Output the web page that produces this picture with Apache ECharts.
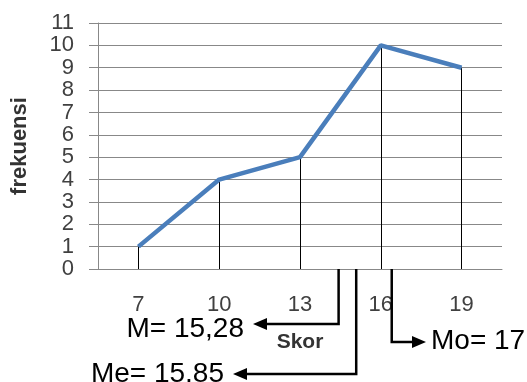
<!DOCTYPE html>
<html>
<head>
<meta charset="utf-8">
<script src="https://cdn.jsdelivr.net/npm/echarts@6/dist/echarts.min.js"></script>
<style>
  html, body { margin: 0; padding: 0; background: #fff; }
  #chart { width: 527px; height: 382px; }
</style>
</head>
<body>
<div id="chart"></div>
<script>
// Frequency polygon of scores
const categories = ['7', '10', '13', '16', '19'];
const frequencies = [1, 4, 5, 10, 9];
const yTicks = [0, 1, 2, 3, 4, 5, 6, 7, 8, 9, 10, 11];

// Central tendency callouts: mean, median, mode
const statNames = ['M', 'Me', 'Mo'];
const statValues = [15.28, 15.85, 17];
const statLabels = ['M= 15,28', 'Me= 15,85', 'Mo= 17'];

const chart = echarts.init(document.getElementById('chart'), null, { renderer: 'canvas' });

const axisFont = { fontFamily: 'Liberation Sans', fontSize: 22, color: '#404040' };

// vertical drop lines from each point down to the x axis
const dropLines = frequencies.map((v, i) => [
  { xAxis: i, yAxis: 0 },
  { xAxis: i, yAxis: v }
]);

chart.setOption({
  animation: false,
  grid: { left: 98, right: 25, top: 23, bottom: 113 },
  xAxis: [
    {
      type: 'category',
      data: categories,
      boundaryGap: true,
      axisLine: { show: true, lineStyle: { color: '#888', width: 1 } },
      axisTick: { show: false },
      axisLabel: Object.assign({ margin: 25 }, axisFont),
      name: 'Skor',
      nameLocation: 'middle',
      nameGap: 63,
      nameTextStyle: { fontFamily: 'Liberation Sans', fontWeight: 'bold', fontSize: 21, color: '#333' }
    },
    {
      // scale used to place the statistic callouts along the score axis
      type: 'value',
      show: false,
      min: 7.49,
      max: 20.57,
      position: 'bottom'
    }
  ],
  yAxis: {
    type: 'value',
    min: yTicks[0],
    max: yTicks[yTicks.length - 1],
    interval: 1,
    axisLine: { show: true, lineStyle: { color: '#888', width: 1 } },
    axisTick: { show: true, length: 9, lineStyle: { color: '#888' } },
    splitLine: { show: true, lineStyle: { color: '#888', width: 1 } },
    axisLabel: Object.assign({ margin: 24 }, axisFont),
    name: 'frekuensi',
    nameLocation: 'middle',
    nameGap: 67,
    nameRotate: 90,
    nameTextStyle: { fontFamily: 'Liberation Sans', fontWeight: 'bold', fontSize: 22, color: '#333' }
  },
  series: [
    {
      type: 'line',
      data: frequencies,
      xAxisIndex: 0,
      symbol: 'none',
      lineStyle: { color: '#4a7ebb', width: 4.5 },
      z: 3,
      markLine: {
        silent: true,
        symbol: ['none', 'none'],
        label: { show: false },
        lineStyle: { color: '#000', width: 1, type: 'solid' },
        data: dropLines,
        z: 2
      }
    }
  ]
});

// Callout arrows: each drops from the axis, then turns toward its label
const axisY = chart.convertToPixel({ yAxisIndex: 0 }, 0);
const callouts = [
  { dropTo: 324, tipX: 253, dir: -1, textX: 244, textY: 329, align: 'right' },
  { dropTo: 374, tipX: 233, dir: -1, textX: 224, textY: 374, align: 'right' },
  { dropTo: 342, tipX: 426, dir: 1, textX: 431, textY: 341, align: 'left' }
];
const graphics = [];
statValues.forEach((v, i) => {
  const c = callouts[i];
  const x = chart.convertToPixel({ xAxisIndex: 1 }, v);
  const headLen = 14, headHalf = 6;
  const shaftEnd = c.tipX - c.dir * headLen;
  graphics.push({
    type: 'polyline',
    shape: { points: [[x, axisY], [x, c.dropTo], [shaftEnd, c.dropTo]] },
    style: { stroke: '#000', lineWidth: 2.5, fill: null },
    z: 10
  });
  graphics.push({
    type: 'polygon',
    shape: { points: [[c.tipX, c.dropTo], [shaftEnd, c.dropTo - headHalf], [shaftEnd, c.dropTo + headHalf]] },
    style: { fill: '#000' },
    z: 10
  });
  graphics.push({
    type: 'text',
    style: {
      x: c.textX, y: c.textY, text: statLabels[i],
      font: '28px "Liberation Sans"', fill: '#000',
      align: c.align, verticalAlign: 'middle'
    },
    z: 10
  });
});
chart.setOption({ graphic: graphics });
</script>
</body>
</html>
